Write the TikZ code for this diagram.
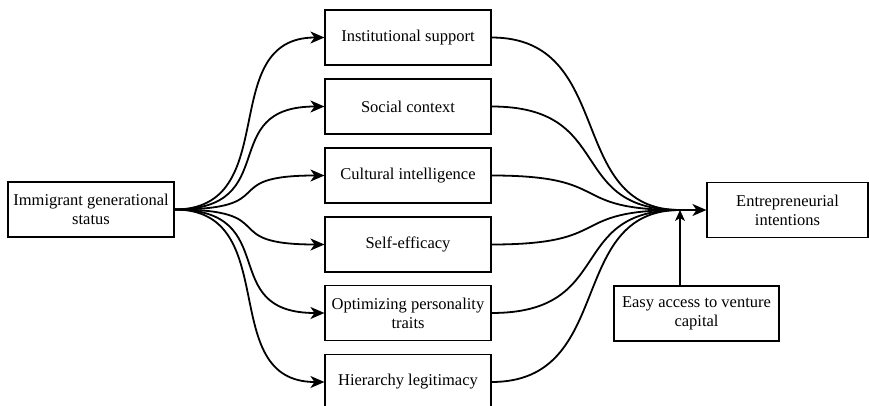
\documentclass[tikz,border=0pt]{standalone}
\usepackage{fontspec}
\setmainfont{Liberation Serif}
\usetikzlibrary{arrows.meta}
\begin{document}
\begin{tikzpicture}[x=1pt,y=-1pt,
  box/.style={draw, line width=1.1pt, minimum width=166pt, minimum height=55pt, align=center, inner sep=2pt, font=\fontsize{16.5}{19}\selectfont},
  link/.style={line width=1.8pt},
  tip/.style={-{Stealth[length=14pt,width=12pt,inset=4pt]}},
  smalltip/.style={-{Stealth[length=11pt,width=10pt,inset=3pt]}}]
\useasboundingbox (0,0) rectangle (869,406);
\node[box] (src) at (91,209.5) {Immigrant generational\\status};
\node[box] (m1) at (408,37.5) {Institutional support};
\node[box] (m2) at (408,106.5) {Social context};
\node[box] (m3) at (408,175.5) {Cultural intelligence};
\node[box] (m4) at (408,244.5) {Self-efficacy};
\node[box] (m5) at (408,313) {Optimizing personality\\traits};
\node[box] (m6) at (408,382) {Hierarchy legitimacy};
\node[box, minimum width=161pt] (dst) at (787.5,210) {Entrepreneurial\\intentions};
\node[box, minimum width=165pt] (easy) at (696.5,313.5) {Easy access to venture\\capital};
\coordinate (j) at (680,210);
\foreach \m in {m1,m2,m3,m4,m5,m6}{
  \draw[link,tip] (src.east) .. controls +(110,0) and +(-110,0) .. (\m.west);
  \draw[link] (\m.east) .. controls +(125,0) and +(-115,0) .. (j);
}
\draw[link,tip] (j) -- (dst.west);
\draw[line width=1.1pt,smalltip] (easy.north -| j) -- (j);
\end{tikzpicture}
\end{document}
